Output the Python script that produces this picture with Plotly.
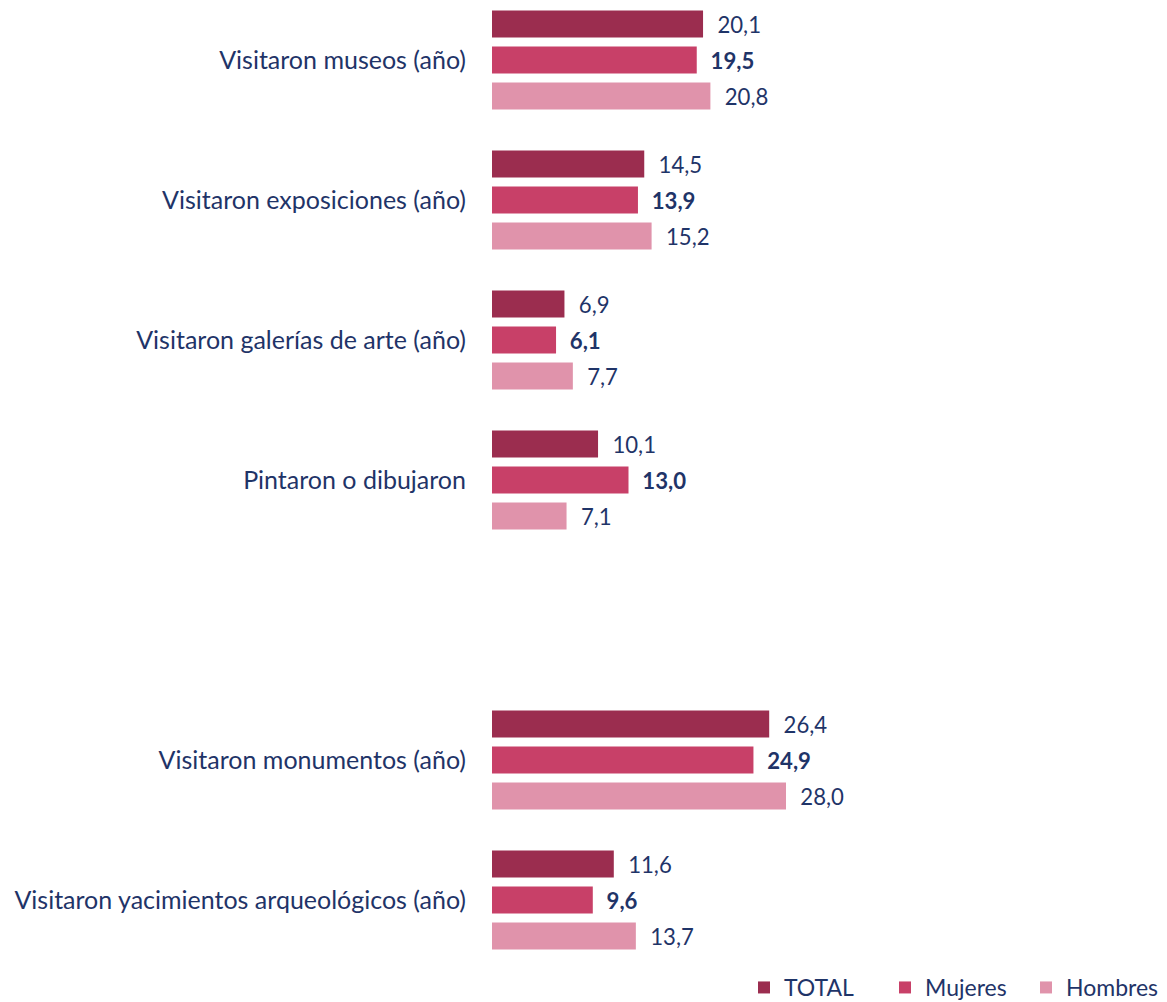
import plotly.graph_objects as go

categories = [
    "Visitaron museos (año)",
    "Visitaron exposiciones (año)",
    "Visitaron galerías de arte (año)",
    "Pintaron o dibujaron",
    " ",
    "Visitaron monumentos (año)",
    "Visitaron yacimientos arqueológicos (año)",
]
total = [20.1, 14.5, 6.9, 10.1, None, 26.4, 11.6]
mujeres = [19.5, 13.9, 6.1, 13.0, None, 24.9, 9.6]
hombres = [20.8, 15.2, 7.7, 7.1, None, 28.0, 13.7]

series_names = ["TOTAL", "Mujeres", "Hombres"]
colors = ["#9B2D4F", "#C84068", "#E093AB"]
NAVY = "#1F3468"
FONT = "Lato"


def fmt(v):
    if v is None:
        return ""
    return "\u00a0\u00a0" + f"{v:.1f}".replace(".", ",")


fig = go.Figure()
for name, vals, col in zip(series_names, [total, mujeres, hombres], colors):
    bold = name == "Mujeres"
    fig.add_trace(go.Bar(
        name=name,
        y=categories,
        x=vals,
        orientation="h",
        marker=dict(color=col, line=dict(width=0)),
        text=[fmt(v) for v in vals],
        textposition="outside",
        textfont=dict(family=FONT, size=23, color=NAVY,
                      weight="bold" if bold else "normal"),
        cliponaxis=False,
        hoverinfo="skip",
    ))

# page body has an 8px margin: figure sits at (8, 8)
W, H = 1159, 994
ml, mr, mt, mb = 484, 0, 0, 34
px_per_unit = 10.5
plot_w = W - ml - mr
plot_h = H - mt - mb
slot = 140.0
top_off = 52.0 / slot

fig.update_layout(
    width=W, height=H,
    margin=dict(l=ml, r=mr, t=mt, b=mb, autoexpand=False),
    barmode="group",
    bargap=0.229,
    bargroupgap=0.25,
    plot_bgcolor="white",
    paper_bgcolor="white",
    font=dict(family=FONT, color=NAVY, size=24),
    xaxis=dict(range=[0, plot_w / px_per_unit], visible=False, fixedrange=True),
    yaxis=dict(
        type="category",
        categoryorder="array",
        categoryarray=categories,
        range=[plot_h / slot - top_off, -top_off],
        showgrid=False, zeroline=False, showline=False,
        ticks="", ticklabelstandoff=25,
        tickfont=dict(family=FONT, size=25, color=NAVY),
        fixedrange=True,
    ),
    legend=dict(
        orientation="h",
        x=1.0, xanchor="right",
        y=-(mb + 7) / plot_h, yanchor="bottom",
        font=dict(family=FONT, size=23, color=NAVY),
        bgcolor="rgba(0,0,0,0)",
        itemwidth=30,
        entrywidth=96,
        entrywidthmode="pixels",
        traceorder="normal",
        borderwidth=0,
    ),
    showlegend=True,
)

fig.write_html("out.html")
